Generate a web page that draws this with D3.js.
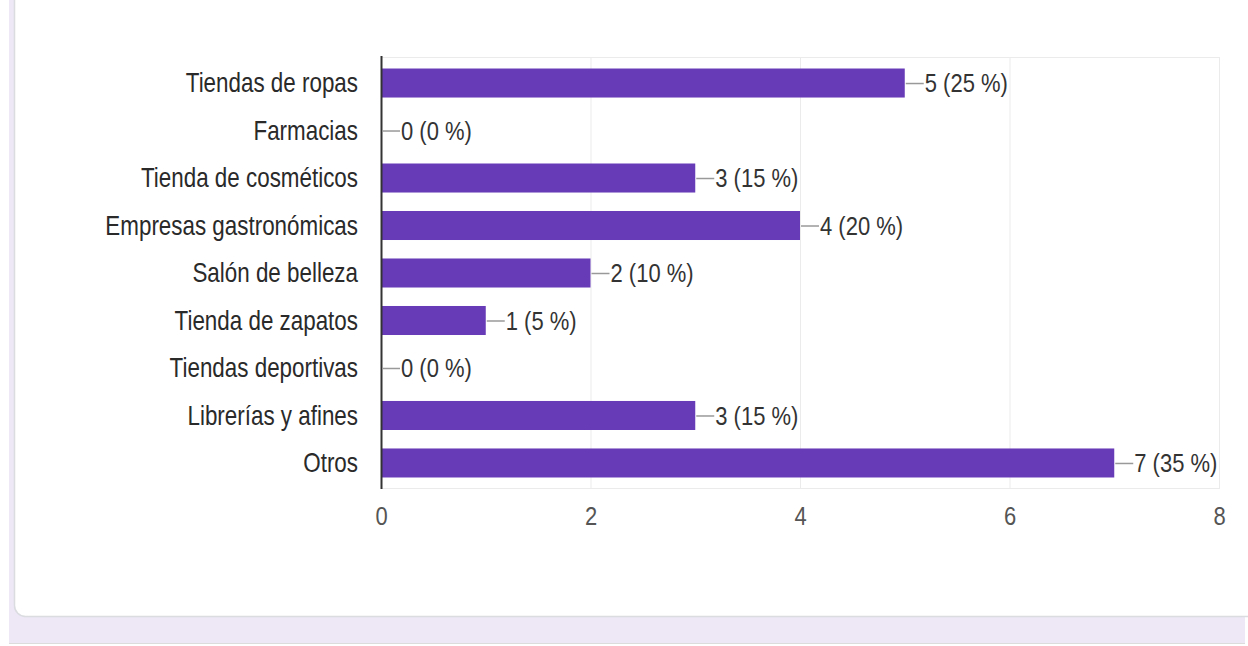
<!DOCTYPE html>
<html>
<head>
<meta charset="utf-8">
<script src="https://cdn.jsdelivr.net/npm/d3@7"></script>
<style>
  html, body { margin: 0; padding: 0; background: #ffffff; }
  svg { display: block; }
</style>
</head>
<body>
<svg id="chart" width="1248" height="646"></svg>
<script>
// Response categories, counts and percentage shares
const categories = [
  "Tiendas de ropas",
  "Farmacias",
  "Tienda de cosméticos",
  "Empresas gastronómicas",
  "Salón de belleza",
  "Tienda de zapatos",
  "Tiendas deportivas",
  "Librerías y afines",
  "Otros"
];
const counts = [5, 0, 3, 4, 2, 1, 0, 3, 7];
const percents = [25, 0, 15, 20, 10, 5, 0, 15, 35];
const xTicks = [0, 2, 4, 6, 8];

const data = categories.map((c, i) => ({ name: c, count: counts[i], pct: percents[i] }));

const svg = d3.select("#chart");

// Page background and card
svg.append("rect").attr("x", 9).attr("y", 0).attr("width", 1236).attr("height", 643).attr("fill", "#ede7f6");
svg.append("line").attr("x1", 9).attr("x2", 1245).attr("y1", 643.5).attr("y2", 643.5)
  .attr("stroke", "#dcdcdc").attr("stroke-width", 1);
svg.append("rect")
  .attr("x", 14.5).attr("y", -30).attr("width", 1260).attr("height", 646.5)
  .attr("rx", 11).attr("fill", "#ffffff")
  .attr("stroke", "#dadce0").attr("stroke-width", 1.5);

const plot = { left: 381, right: 1219, top: 57, bottom: 488 };

const x = d3.scaleLinear().domain([0, 8]).range([plot.left, plot.right]);
const y = d3.scaleBand().domain(categories)
  .range([59.25, 486.75]).paddingInner(0.389).paddingOuter(0.195);

const FONT = "'Liberation Sans', Arial, sans-serif";
const FS_CAT = 22.4;
const FS = 22;
const SY = 1.2;

// Frame and vertical gridlines
const g = svg.append("g");
g.selectAll("line.grid").data(xTicks.slice(1)).join("line")
  .attr("class", "grid")
  .attr("x1", d => x(d) + 0.5).attr("x2", d => x(d) + 0.5)
  .attr("y1", plot.top).attr("y2", plot.bottom)
  .attr("stroke", "#ebebeb").attr("stroke-width", 1);
g.append("line").attr("x1", plot.left).attr("x2", plot.right + 1)
  .attr("y1", plot.top + 0.5).attr("y2", plot.top + 0.5)
  .attr("stroke", "#ebebeb");
g.append("line").attr("x1", plot.left).attr("x2", plot.right + 1)
  .attr("y1", plot.bottom + 0.5).attr("y2", plot.bottom + 0.5)
  .attr("stroke", "#ebebeb");

// Bars
g.selectAll("rect.bar").data(data).join("rect")
  .attr("class", "bar")
  .attr("x", x(0))
  .attr("y", d => y(d.name))
  .attr("width", d => x(d.count) - x(0))
  .attr("height", y.bandwidth())
  .attr("fill", "#673ab7");

// Axis line
g.append("line").attr("x1", plot.left + 0.5).attr("x2", plot.left + 0.5)
  .attr("y1", plot.top - 1).attr("y2", plot.bottom + 1)
  .attr("stroke", "#333333").attr("stroke-width", 2);

// Category labels
g.selectAll("text.cat").data(data).join("text")
  .attr("class", "cat")
  .attr("transform", d => `translate(${plot.left - 23},${y(d.name) + y.bandwidth() / 2}) scale(1,${SY})`)
  .attr("dy", "0.35em")
  .attr("text-anchor", "end")
  .attr("font-family", FONT).attr("font-size", FS_CAT)
  .attr("fill", "#2a2a2a")
  .text(d => d.name);

// Value annotations with leader lines
const ann = g.selectAll("g.ann").data(data).join("g").attr("class", "ann")
  .attr("transform", d => `translate(${x(d.count)},${y(d.name) + y.bandwidth() / 2})`);
ann.append("line").attr("x1", 1).attr("x2", 19).attr("y1", 0.5).attr("y2", 0.5)
  .attr("stroke", "#999999").attr("stroke-width", 1.5);
ann.append("text")
  .attr("transform", `translate(20,0) scale(1,${SY})`)
  .attr("dy", "0.35em")
  .attr("font-family", FONT).attr("font-size", FS)
  .attr("fill", "#333333")
  .text(d => `${d.count} (${d.pct} %)`);

// X axis tick labels
const xAxis = d3.axisBottom(x).tickValues(xTicks).tickSize(0).tickPadding(0);
const ax = svg.append("g").attr("transform", `translate(0,${plot.bottom})`).call(xAxis);
ax.select(".domain").remove();
ax.selectAll(".tick text")
  .attr("y", 0).attr("dy", 0)
  .attr("transform", `translate(0,37) scale(1,${SY})`)
  .attr("font-family", FONT).attr("font-size", FS)
  .attr("fill", "#555555");
</script>
</body>
</html>
